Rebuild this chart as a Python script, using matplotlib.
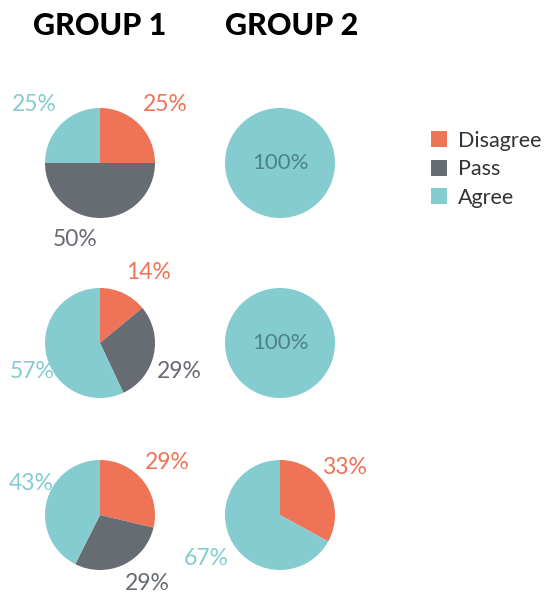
import numpy as np
import matplotlib
matplotlib.use("Agg")
import matplotlib.pyplot as plt
from matplotlib.patches import Patch

# ---- data ----
categories = ["Disagree", "Pass", "Agree"]
group1 = [[25, 50, 25], [14, 29, 57], [29, 29, 43]]
group2 = [[0, 0, 100], [0, 0, 100], [33, 0, 67]]
titles = ["GROUP 1", "GROUP 2"]

colors = ["#EE7357", "#676B72", "#85CCD0"]
full_text_color = "#4E8289"

# ---- layout (pixel coords) ----
W, H = 557, 596
col_x = [100, 280]
title_x = [100, 292]
row_y = [163, 343, 515]
R = 55
# label placement tweaks: (row, col, cat) -> (angle shift deg, distance / R)
nudge = {
    (0, 0, 0): (-3, 1.6), (0, 0, 1): (-18, 1.47), (0, 0, 2): (3, 1.6),
    (1, 0, 0): (-9, 1.56), (1, 0, 1): (-7, 1.54), (1, 0, 2): (10, 1.34),
    (2, 0, 0): (0, 1.55), (2, 0, 1): (10, 1.51), (2, 0, 2): (-11.5, 1.38),
    (2, 1, 0): (6, 1.45), (2, 1, 2): (0, 1.56),
}

plt.rcParams["font.family"] = ["Lato", "DejaVu Sans"]
fig = plt.figure(figsize=(W / 100, H / 100), dpi=100)
ax = fig.add_axes([0, 0, 1, 1])

for c, grp in enumerate([group1, group2]):
    ax.text(title_x[c], 26, titles[c], ha="center", va="center",
            fontsize=22, fontweight="black", color="black")
    for r, vals in enumerate(grp):
        cx, cy = col_x[c], row_y[r]
        # y axis is inverted, so counterclock=True draws clockwise on screen
        ax.pie(vals, colors=colors, startangle=-90, counterclock=True,
               center=(cx, cy), radius=R, frame=True,
               wedgeprops=dict(linewidth=0))
        total = sum(vals)
        start = 0.0
        for k, v in enumerate(vals):
            if v == 0:
                continue
            if v == total:
                ax.text(cx, cy, f"{v}%", ha="center", va="center", fontsize=16,
                        color=full_text_color)
                continue
            mid = start + v / 2
            ang = 90 - 360 * mid / total  # math angle, clockwise from top
            shift, dist = nudge.get((r, c, k), (0, 1.55))
            a = np.deg2rad(ang + shift)
            ax.text(cx + dist * R * np.cos(a), cy - dist * R * np.sin(a), f"{v}%",
                    ha="center", va="center", fontsize=16.5, color=colors[k])
            start += v

ax.set_xlim(0, W)
ax.set_ylim(H, 0)
ax.set_aspect("equal")
ax.axis("off")

handles = [Patch(facecolor=col, edgecolor="none") for col in colors]
ax.legend(handles, categories, loc="upper left", bbox_to_anchor=(422 / W, 1 - 122 / H),
          frameon=False, fontsize=15.5, handlelength=0.75, handleheight=0.75,
          handletextpad=0.5, labelspacing=0.4, borderaxespad=0,
          labelcolor="#333333")

fig.savefig("out.png", dpi=100)
